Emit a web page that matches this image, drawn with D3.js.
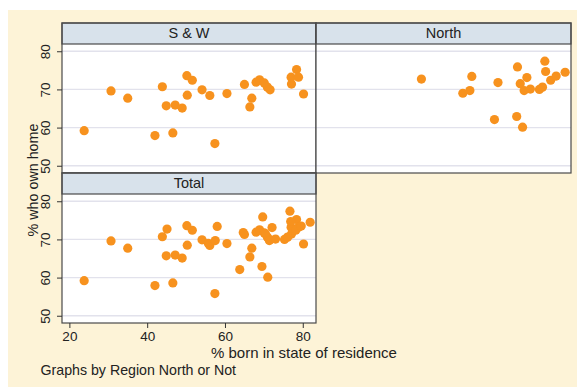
<!DOCTYPE html>
<html><head><meta charset="utf-8">
<script src="https://cdn.jsdelivr.net/npm/d3@7"></script>
<style>body{margin:0;background:#fff}svg{display:block;font-family:"Liberation Sans",Arial,Helvetica,sans-serif}</style>
</head><body><div id="chart"></div>
<script>
// % born in state of residence (x) and % who own home (y)
const swBorn = [23.8,30.7,35.0,42.0,43.9,44.9,46.6,47.2,49.0,50.2,50.3,51.6,54.1,56.1,57.4,60.5,65.0,66.4,66.9,68.0,68.9,70.1,70.9,71.6,77.0,77.1,78.4,78.9,80.2];
const swOwn  = [59.2,69.6,67.7,57.9,70.7,65.7,58.6,65.9,65.1,73.6,68.5,72.4,69.9,68.4,55.8,68.9,71.3,65.4,67.7,71.9,72.5,71.7,70.6,69.9,73.2,71.4,75.2,73.2,68.8];
const northBorn = [45.1,55.7,57.5,58.0,64.7,63.8,69.7,69.5,71.0,72.1,70.4,71.4,73.0,75.3,76.1,76.7,76.9,78.2,79.6,81.9];
const northOwn  = [72.7,69.0,69.7,73.4,71.8,62.1,75.9,62.9,60.1,73.1,71.5,69.7,70.1,70.0,70.6,77.4,74.7,72.4,73.5,74.5];
const panelNames = ["S & W","North","Total"];
const xTicks = [20,40,60,80];
const yTicks = [50,60,70,80];

const W=577,H=388;
const svg=d3.select("#chart").append("svg").attr("width",W).attr("height",H);
svg.append("rect").attr("x",8).attr("y",10).attr("width",W-8).attr("height",H-11).attr("fill","#fdf3d7");

const toPts=(xs,ys)=>xs.map((v,i)=>({x:v,y:ys[i]}));
const sw=toPts(swBorn,swOwn), north=toPts(northBorn,northOwn);
const panels=[
  {name:panelNames[0],x0:62,x1:316,y0:23,data:sw,yAxis:true,xAxis:false},
  {name:panelNames[1],x0:316,x1:571,y0:23,data:north,yAxis:false,xAxis:false},
  {name:panelNames[2],x0:62,x1:316,y0:173,data:sw.concat(north),yAxis:true,xAxis:true}
];
const stripH=21, plotH=129;
const orange="#f7921e";

panels.forEach(p=>{
  const g=svg.append("g");
  const top=p.y0+stripH, bot=top+plotH;
  const x=d3.scaleLinear().domain([18.1,83.4]).range([p.x0,p.x1]);
  const y=d3.scaleLinear().domain([48.1,81.9]).range([bot,top]);
  g.append("rect").attr("x",p.x0).attr("y",top).attr("width",p.x1-p.x0).attr("height",plotH).attr("fill","#fff");
  g.selectAll(".grid").data(yTicks).join("line")
    .attr("x1",p.x0).attr("x2",p.x1).attr("y1",d=>y(d)).attr("y2",d=>y(d))
    .attr("stroke","#e2e2ec").attr("stroke-width",1.3);
  g.append("rect").attr("x",p.x0).attr("y",p.y0).attr("width",p.x1-p.x0).attr("height",stripH)
    .attr("fill","#d8e2eb").attr("stroke","#4a4a4a").attr("stroke-width",1.2);
  g.append("text").attr("x",(p.x0+p.x1)/2).attr("y",p.y0+stripH-6.5).attr("text-anchor","middle")
    .attr("font-size",14.5).attr("fill","#222").text(p.name);
  g.selectAll("circle").data(p.data).join("circle")
    .attr("cx",d=>x(d.x)).attr("cy",d=>y(d.y)).attr("r",4.6).attr("fill",orange);
  g.append("rect").attr("x",p.x0).attr("y",p.y0).attr("width",p.x1-p.x0).attr("height",stripH+plotH)
    .attr("fill","none").attr("stroke","#4a4a4a").attr("stroke-width",1.2);
  if(p.yAxis){
    const ay=g.append("g").attr("transform",`translate(${p.x0},0)`)
      .call(d3.axisLeft(y).tickValues(yTicks).tickSize(5).tickPadding(0).tickFormat(d3.format("d")));
    ay.select(".domain").remove();
    ay.selectAll(".tick line").attr("stroke","#333");
    ay.selectAll(".tick text").attr("x",0).attr("dy",0).attr("text-anchor","middle")
      .attr("transform","translate(-12,0) rotate(-90)").attr("font-size",13.5)
      .attr("font-family","Liberation Sans, Arial, sans-serif").attr("fill","#222");
  }
  if(p.xAxis){
    const ax=g.append("g").attr("transform",`translate(0,${bot})`)
      .call(d3.axisBottom(x).tickValues(xTicks).tickSize(5).tickPadding(3).tickFormat(d3.format("d")));
    ax.select(".domain").remove();
    ax.selectAll(".tick line").attr("stroke","#333");
    ax.selectAll(".tick text").attr("font-size",13.5)
      .attr("font-family","Liberation Sans, Arial, sans-serif").attr("fill","#222");
  }
});

svg.append("text").attr("transform","translate(37.5,180) rotate(-90)").attr("text-anchor","middle")
  .attr("font-size",14.3).attr("fill","#222").text("% who own home");
svg.append("text").attr("x",304).attr("y",358).attr("text-anchor","middle")
  .attr("font-size",15).attr("fill","#222").text("% born in state of residence");
svg.append("text").attr("x",40.5).attr("y",375).attr("font-size",14.2).attr("fill","#222")
  .text("Graphs by Region North or Not");
</script></body></html>
